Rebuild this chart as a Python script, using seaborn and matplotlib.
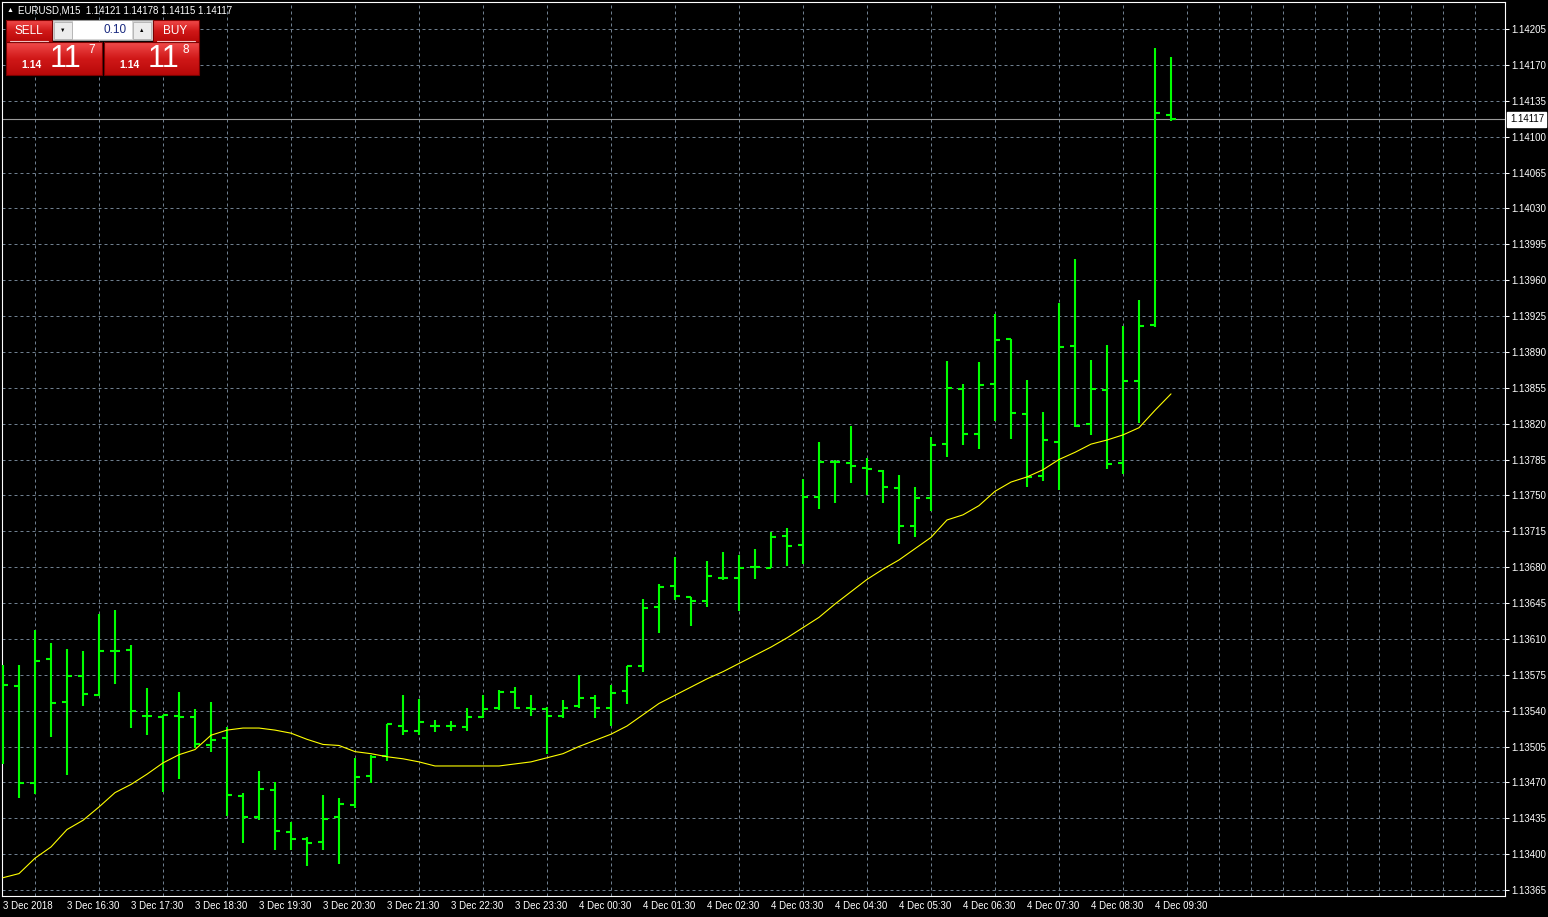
import numpy as np
import pandas as pd
import matplotlib
matplotlib.use("Agg")
import matplotlib.pyplot as plt
import seaborn as sns
from matplotlib.patches import Rectangle
from matplotlib.colors import LinearSegmentedColormap
import matplotlib.transforms as mtransforms

# ---------------- data (EURUSD, M15) ----------------
opens = [1.13560, 1.13564, 1.13469, 1.13590, 1.13548, 1.13574, 1.13555, 1.13598, 1.13599, 1.13535,
         1.13534, 1.13535, 1.13534, 1.13506, 1.13513, 1.13457, 1.13436, 1.13463, 1.13422, 1.13415,
         1.13412, 1.13436, 1.13448, 1.13476, 1.13496, 1.13525, 1.13520, 1.13525, 1.13525, 1.13524,
         1.13534, 1.13543, 1.13558, 1.13543, 1.13542, 1.13535, 1.13545, 1.13552, 1.13543, 1.13559,
         1.13584, 1.13641, 1.13662, 1.13651, 1.13647, 1.13669, 1.13669, 1.13680, 1.13679, 1.13710,
         1.13702, 1.13748, 1.13783, 1.13782, 1.13777, 1.13774, 1.13757, 1.13720, 1.13747, 1.13800,
         1.13854, 1.13810, 1.13859, 1.13903, 1.13829, 1.13769, 1.13802, 1.13896, 1.13820, 1.13853,
         1.13782, 1.13862, 1.13916, 1.14121]
highs = [1.13585, 1.13585, 1.13619, 1.13606, 1.13600, 1.13598, 1.13634, 1.13638, 1.13604, 1.13562,
         1.13536, 1.13558, 1.13542, 1.13548, 1.13524, 1.13460, 1.13481, 1.13470, 1.13431, 1.13417,
         1.13458, 1.13455, 1.13494, 1.13497, 1.13527, 1.13555, 1.13551, 1.13531, 1.13530, 1.13543,
         1.13555, 1.13560, 1.13563, 1.13555, 1.13544, 1.13550, 1.13575, 1.13555, 1.13565, 1.13584,
         1.13649, 1.13664, 1.13690, 1.13651, 1.13686, 1.13695, 1.13692, 1.13698, 1.13714, 1.13718,
         1.13766, 1.13802, 1.13785, 1.13818, 1.13786, 1.13775, 1.13770, 1.13758, 1.13807, 1.13881,
         1.13859, 1.13880, 1.13927, 1.13903, 1.13863, 1.13831, 1.13938, 1.13981, 1.13882, 1.13897,
         1.13915, 1.13941, 1.14186, 1.14178]
lows = [1.13488, 1.13455, 1.13459, 1.13514, 1.13477, 1.13545, 1.13554, 1.13566, 1.13523, 1.13516,
        1.13461, 1.13473, 1.13504, 1.13500, 1.13437, 1.13411, 1.13433, 1.13404, 1.13404, 1.13388,
        1.13404, 1.13390, 1.13445, 1.13469, 1.13491, 1.13516, 1.13516, 1.13519, 1.13520, 1.13520,
        1.13533, 1.13541, 1.13542, 1.13535, 1.13498, 1.13533, 1.13543, 1.13533, 1.13525, 1.13546,
        1.13578, 1.13616, 1.13648, 1.13623, 1.13641, 1.13667, 1.13637, 1.13668, 1.13679, 1.13681,
        1.13683, 1.13737, 1.13743, 1.13762, 1.13750, 1.13743, 1.13703, 1.13709, 1.13735, 1.13787,
        1.13799, 1.13795, 1.13823, 1.13805, 1.13758, 1.13764, 1.13755, 1.13817, 1.13809, 1.13776,
        1.13771, 1.13821, 1.13914, 1.14115]
closes = [1.13565, 1.13469, 1.13588, 1.13547, 1.13574, 1.13556, 1.13598, 1.13598, 1.13540, 1.13535,
          1.13536, 1.13534, 1.13507, 1.13511, 1.13458, 1.13436, 1.13464, 1.13423, 1.13415, 1.13411,
          1.13434, 1.13449, 1.13475, 1.13495, 1.13527, 1.13520, 1.13529, 1.13525, 1.13525, 1.13534,
          1.13542, 1.13558, 1.13543, 1.13542, 1.13535, 1.13543, 1.13552, 1.13543, 1.13557, 1.13584,
          1.13640, 1.13661, 1.13652, 1.13647, 1.13671, 1.13669, 1.13679, 1.13680, 1.13709, 1.13701,
          1.13748, 1.13783, 1.13783, 1.13779, 1.13776, 1.13758, 1.13720, 1.13747, 1.13799, 1.13855,
          1.13810, 1.13858, 1.13902, 1.13830, 1.13768, 1.13804, 1.13895, 1.13818, 1.13854, 1.13781,
          1.13862, 1.13915, 1.14123, 1.14117]
moving_avg = [1.13377, 1.13381, 1.13396, 1.13407, 1.13424, 1.13433, 1.13446, 1.13460, 1.13468, 1.13478,
              1.13489, 1.13497, 1.13502, 1.13516, 1.13521, 1.13523, 1.13523, 1.13521, 1.13518, 1.13512,
              1.13507, 1.13506, 1.13500, 1.13498, 1.13495, 1.13493, 1.13490, 1.13486, 1.13486, 1.13486,
              1.13486, 1.13486, 1.13488, 1.13490, 1.13494, 1.13498, 1.13505, 1.13511, 1.13517, 1.13525,
              1.13536, 1.13547, 1.13555, 1.13563, 1.13571, 1.13578, 1.13586, 1.13594, 1.13602, 1.13611,
              1.13621, 1.13631, 1.13644, 1.13656, 1.13668, 1.13678, 1.13687, 1.13698, 1.13709, 1.13726,
              1.13731, 1.13740, 1.13754, 1.13763, 1.13768, 1.13775, 1.13785, 1.13792, 1.13800, 1.13804,
              1.13809, 1.13816, 1.13833, 1.13849]

price_ticks = [1.13365, 1.13400, 1.13435, 1.13470, 1.13505, 1.13540, 1.13575, 1.13610, 1.13645,
               1.13680, 1.13715, 1.13750, 1.13785, 1.13820, 1.13855, 1.13890, 1.13925, 1.13960,
               1.13995, 1.14030, 1.14065, 1.14100, 1.14135, 1.14170, 1.14205]
time_tick_bars = [0, 4, 8, 12, 16, 20, 24, 28, 32, 36, 40, 44, 48, 52, 56, 60, 64, 68, 72]
time_tick_labels = ["3 Dec 2018", "3 Dec 16:30", "3 Dec 17:30", "3 Dec 18:30", "3 Dec 19:30",
                    "3 Dec 20:30", "3 Dec 21:30", "3 Dec 22:30", "3 Dec 23:30", "4 Dec 00:30",
                    "4 Dec 01:30", "4 Dec 02:30", "4 Dec 03:30", "4 Dec 04:30", "4 Dec 05:30",
                    "4 Dec 06:30", "4 Dec 07:30", "4 Dec 08:30", "4 Dec 09:30"]
symbol_header = "EURUSD,M15  1.14121 1.14178 1.14115 1.14117"

df = pd.DataFrame({"bar": np.arange(len(opens)), "open": opens, "high": highs,
                   "low": lows, "close": closes, "ma": moving_avg})

# ---------------- style ----------------
sns.set_theme(style="dark", rc={"axes.facecolor": "black", "figure.facecolor": "black",
                                "axes.edgecolor": "white", "text.color": "white",
                                "xtick.color": "white", "ytick.color": "white"})
plt.rcParams["font.family"] = ["Liberation Sans", "DejaVu Sans"]

W, H = 1548, 917
fig = plt.figure(figsize=(W / 100, H / 100), dpi=100)
fig.patch.set_facecolor("black")
ax = fig.add_axes([2 / W, (H - 896) / H, (1505 - 2) / W, (896 - 2) / H])
ax.set_facecolor("black")

px_per_bar = 16.0
price_per_px = 0.00035 / 35.875
ax.set_xlim(-1 / px_per_bar, (1505 - 3) / px_per_bar)
ax.set_ylim(1.14205 - (896 - 29) * price_per_px, 1.14205 + 27 * price_per_px)

# grid
ax.set_axisbelow(True)
ax.set_xticks(np.arange(2, 94, 2), minor=True)
ax.grid(False)
grid_kw = dict(color="#6f7f8f", lw=0.72, ls=(0, (3, 3)))
ax.grid(True, which="minor", axis="x", **grid_kw)
ax.set_yticks(price_ticks)
ax.grid(True, which="major", axis="y", **grid_kw)

# OHLC bars
green = "#00ff00"
tick_len = 5 / px_per_bar
ax.vlines(df["bar"], df["low"], df["high"], color=green, lw=1.5, zorder=3)
ax.hlines(df["open"], df["bar"] - tick_len, df["bar"], color=green, lw=1.5, zorder=3)
ax.hlines(df["close"], df["bar"], df["bar"] + tick_len, color=green, lw=1.5, zorder=3)

# moving average
sns.lineplot(data=df, x="bar", y="ma", ax=ax, color="#ffff00", lw=0.8, zorder=4)

# current price line
last = closes[-1]
ax.axhline(last, color="#9a9a9a", lw=0.8, zorder=2)
trans = mtransforms.blended_transform_factory(ax.transAxes, ax.transData)
ax.text(1.0 + 5 / W, last, f"{last:.5f}", transform=trans, color="black", fontsize=7,
        va="center", ha="left",
        bbox=dict(boxstyle="square,pad=0.25", fc="white", ec="white"), zorder=6, clip_on=False)

# axes ticks / labels
ax.yaxis.tick_right()
ax.set_yticklabels([f"{p:.5f}" for p in price_ticks], fontsize=7)
ax.tick_params(axis="y", which="major", direction="out", length=3, width=0.75,
               color="white", pad=1.5, labelcolor="white")
ax.set_xticks(time_tick_bars)
ax.set_xticklabels(time_tick_labels, fontsize=7)
for lbl in ax.get_xticklabels():
    lbl.set_horizontalalignment("left")
ax.tick_params(axis="x", which="major", direction="out", length=3, width=0.75,
               color="white", pad=0.5, labelcolor="white")
ax.tick_params(axis="x", which="minor", length=0)
ax.set_xlabel("")
ax.set_ylabel("")
for s in ax.spines.values():
    s.set_visible(True)
    s.set_color("white")
    s.set_linewidth(0.8)
if ax.get_legend() is not None:
    ax.get_legend().remove()

# ---------------- overlay: header and trade panel (pixel coords) ----------------
ov = fig.add_axes([0, 0, 1, 1], zorder=10)
ov.set_facecolor("none")
ov.axis("off")

ov.text(7, 10.5, "▲", fontsize=5, color="white", va="center", ha="left")
ov.text(18, 10.5, symbol_header, fontsize=7, color="white", va="center", ha="left")

red_cmap = LinearSegmentedColormap.from_list("mtred", ["#f24c4c", "#d01818", "#b80808"])
grad = np.linspace(0, 1, 64).reshape(-1, 1)


def red_box(x0, y0, x1, y1):
    ov.imshow(grad, cmap=red_cmap, extent=(x0, x1, y1, y0), aspect="auto",
              interpolation="bilinear", origin="upper", zorder=11)
    ov.add_patch(Rectangle((x0, y0), x1 - x0, y1 - y0, fill=False, ec="#7a0000", lw=0.8, zorder=12))


red_box(6, 20, 52, 42)
red_box(153, 20, 199, 42)
red_box(6, 42, 102, 75)
red_box(104, 42, 199, 75)

# spinner
ov.add_patch(Rectangle((52, 20), 101, 20, fc="#d8d8d8", ec="#9a9a9a", lw=0.8, zorder=11))
ov.add_patch(Rectangle((73, 21), 59, 18, fc="white", ec="none", zorder=12))
ov.add_patch(Rectangle((54, 21.5), 18, 17, fc="#ececec", ec="#b0b0b0", lw=0.6, zorder=12))
ov.add_patch(Rectangle((133, 21.5), 18, 17, fc="#ececec", ec="#b0b0b0", lw=0.6, zorder=12))
ov.text(63, 30.5, "▼", fontsize=4, color="black", ha="center", va="center", zorder=13)
ov.text(142, 30, "▲", fontsize=4, color="black", ha="center", va="center", zorder=13)
ov.text(127, 30, "0.10", fontsize=8.5, color="#1a2a80", ha="right", va="center", zorder=13)

# SELL / BUY
ov.text(28.5, 30.5, "SELL", fontsize=8.5, color="white", ha="center", va="center", zorder=13)
ov.text(175, 30.5, "BUY", fontsize=8.5, color="white", ha="center", va="center", zorder=13)
ov.plot([10, 48], [41, 41], color="#f0c0c0", lw=0.8, zorder=13)
ov.plot([157, 195], [41, 41], color="#f0c0c0", lw=0.8, zorder=13)

# prices
for cx_small, cx_big, cx_sup, sup in [(32, 65, 92, "7"), (130, 163, 186, "8")]:
    ov.text(cx_small, 65.5, "1.14", fontsize=7.5, fontweight="bold", color="white",
            ha="center", va="center", zorder=13)
    ov.text(cx_big, 59, "11", fontsize=22, color="white", ha="center", va="center", zorder=13)
    ov.text(cx_sup, 50, sup, fontsize=8.5, color="white", ha="center", va="center", zorder=13)

ov.set_xlim(0, W)
ov.set_ylim(H, 0)

fig.savefig("out.png", dpi=100, facecolor="black")
